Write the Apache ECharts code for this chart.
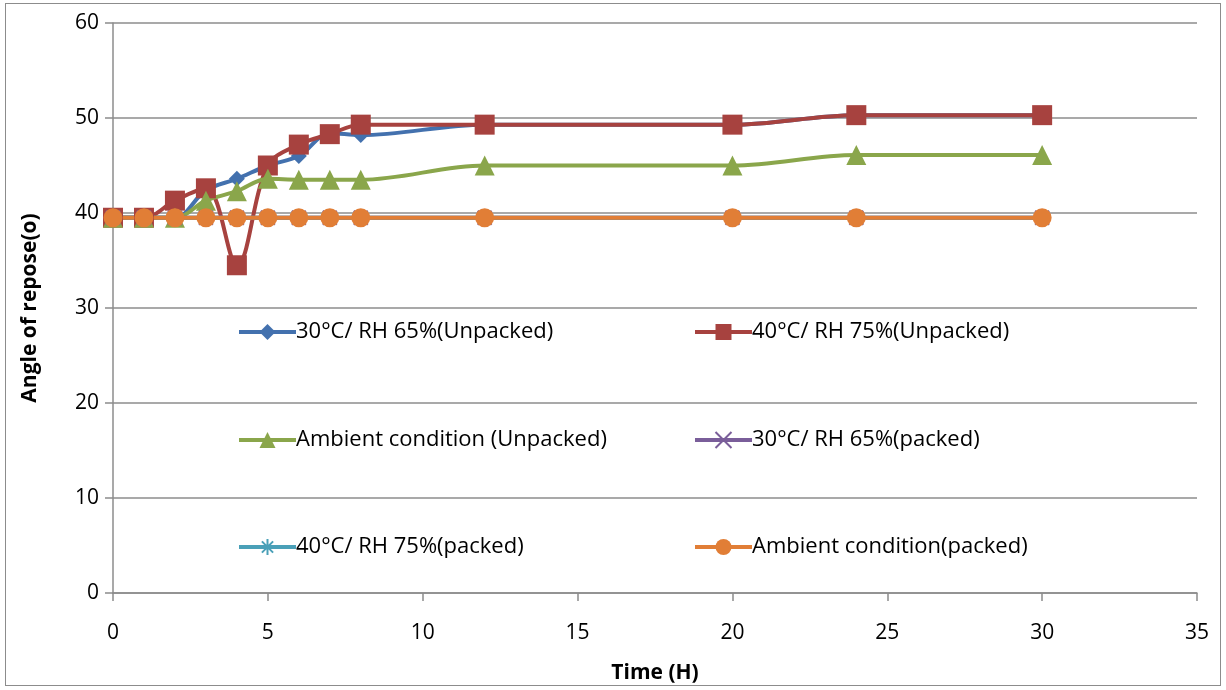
<!DOCTYPE html>
<html>

<head>
  <meta charset="utf-8" />
  <title>Angle of repose</title>
  <style>
    html, body {
      margin: 0;
      padding: 0;
      background-color: #ffffff;
    }
    #frame {
      position: absolute;
      left: 5px;
      top: 3px;
      width: 1216px;
      height: 683px;
      border: 1.5px solid #8c8c8c;
      box-sizing: border-box;
    }
  </style>
  <script src="https://cdn.jsdelivr.net/npm/echarts@6/dist/echarts.min.js"></script>
</head>

<body>
  <div id="frame"></div>
  <div id="main" style="position:absolute;left:0;top:0;width:1226px;height:690px;"></div>
  <script type="text/javascript">
    // 时间点 (H)
    var hours = [0, 1, 2, 3, 4, 5, 6, 7, 8, 12, 20, 24, 30];

    // 各条件下的休止角
    var unpacked30 = [39.5, 39.5, 39.5, 42.4, 43.6, 45.0, 46.0, 48.4, 48.2, 49.3, 49.3, 50.3, 50.3];
    var unpacked40 = [39.5, 39.5, 41.3, 42.6, 34.5, 45.0, 47.2, 48.3, 49.3, 49.3, 49.3, 50.3, 50.3];
    var unpackedAmb = [39.5, 39.5, 39.5, 41.3, 42.3, 43.6, 43.5, 43.5, 43.5, 45.0, 45.0, 46.1, 46.1];
    var packed30 = [39.5, 39.5, 39.5, 39.5, 39.5, 39.5, 39.5, 39.5, 39.5, 39.5, 39.5, 39.5, 39.5];
    var packed40 = [39.5, 39.5, 39.5, 39.5, 39.5, 39.5, 39.5, 39.5, 39.5, 39.5, 39.5, 39.5, 39.5];
    var packedAmb = [39.5, 39.5, 39.5, 39.5, 39.5, 39.5, 39.5, 39.5, 39.5, 39.5, 39.5, 39.5, 39.5];

    var names = [
      '30°C/ RH 65%(Unpacked)',
      '40°C/ RH 75%(Unpacked)',
      'Ambient condition (Unpacked)',
      '30°C/ RH 65%(packed)',
      '40°C/ RH 75%(packed)',
      'Ambient condition(packed)'
    ];

    var font = "'Open Sans', sans-serif";

    function pairs(ys) {
      return hours.map(function (h, i) { return [h, ys[i]]; });
    }

    var crossPath = 'path://M0,0L10,10M10,0L0,10';
    var starPath = 'path://M5,0L5,10M0,5L10,5M1.5,1.5L8.5,8.5M8.5,1.5L1.5,8.5';

    function makeSeries(name, ys, color, symbol, size, stroke) {
      return {
        name: name,
        type: 'line',
        smooth: 0.35,
        data: pairs(ys),
        symbol: symbol,
        symbolSize: size,
        showAllSymbol: true,
        lineStyle: { color: color, width: 4 },
        itemStyle: stroke
          ? { color: color, borderColor: color, borderWidth: 2 }
          : { color: color },
        emphasis: { disabled: true }
      };
    }

    // 图例：两列三行，放在绘图区内部
    var legendPos = [
      { left: 237, top: 321 },
      { left: 693, top: 321 },
      { left: 237, top: 429 },
      { left: 693, top: 429 },
      { left: 237, top: 536 },
      { left: 693, top: 536 }
    ];
    var legends = names.map(function (n, i) {
      return {
        data: [n],
        left: legendPos[i].left,
        top: legendPos[i].top,
        itemWidth: 57,
        itemHeight: 20,
        itemGap: 0,
        padding: 0,
        lineStyle: { width: 4 },
        textStyle: { fontFamily: font, fontSize: 22, color: '#000', padding: [0, 0, 0, -5] },
        selectedMode: false
      };
    });

    var myChart = echarts.init(document.getElementById('main'), null, { renderer: 'canvas' });

    var option = {
      animation: false,
      backgroundColor: 'transparent',
      legend: legends,
      grid: {
        left: 113,
        right: 29,
        top: 23,
        bottom: 97,
        containLabel: false
      },
      xAxis: {
        type: 'value',
        min: 0,
        max: 35,
        interval: 5,
        name: 'Time (H)',
        nameLocation: 'middle',
        nameGap: 70,
        nameTextStyle: { fontFamily: font, fontSize: 21, fontWeight: 'bold', color: '#000' },
        axisLine: { show: true, lineStyle: { color: '#8c8c8c', width: 1.5 } },
        axisTick: { show: true, inside: false, length: 8, lineStyle: { color: '#8c8c8c', width: 1.5 } },
        axisLabel: { fontFamily: font, fontSize: 21, color: '#000', margin: 30 },
        splitLine: { show: false }
      },
      yAxis: {
        type: 'value',
        min: 0,
        max: 60,
        interval: 10,
        name: 'Angle of repose(o)',
        nameLocation: 'middle',
        nameGap: 72,
        nameRotate: 90,
        nameTextStyle: { fontFamily: font, fontSize: 21, fontWeight: 'bold', color: '#000' },
        axisLine: { show: true, lineStyle: { color: '#8c8c8c', width: 1.5 } },
        axisTick: { show: true, inside: false, length: 8, lineStyle: { color: '#8c8c8c', width: 1.5 } },
        axisLabel: { fontFamily: font, fontSize: 21, color: '#000', margin: 14 },
        splitLine: { show: true, lineStyle: { color: '#8c8c8c', width: 1.5 } }
      },
      series: [
        makeSeries(names[0], unpacked30, '#4371ae', 'diamond', 16, false),
        makeSeries(names[1], unpacked40, '#a7423f', 'rect', 20, false),
        makeSeries(names[2], unpackedAmb, '#8aa64b', 'triangle', 20, false),
        makeSeries(names[3], packed30, '#7a5e9a', crossPath, 14, true),
        makeSeries(names[4], packed40, '#4aa0b8', starPath, 14, true),
        makeSeries(names[5], packedAmb, '#e17e36', 'circle', 19, false)
      ]
    };
    myChart.setOption(option);
  </script>
</body>

</html>
